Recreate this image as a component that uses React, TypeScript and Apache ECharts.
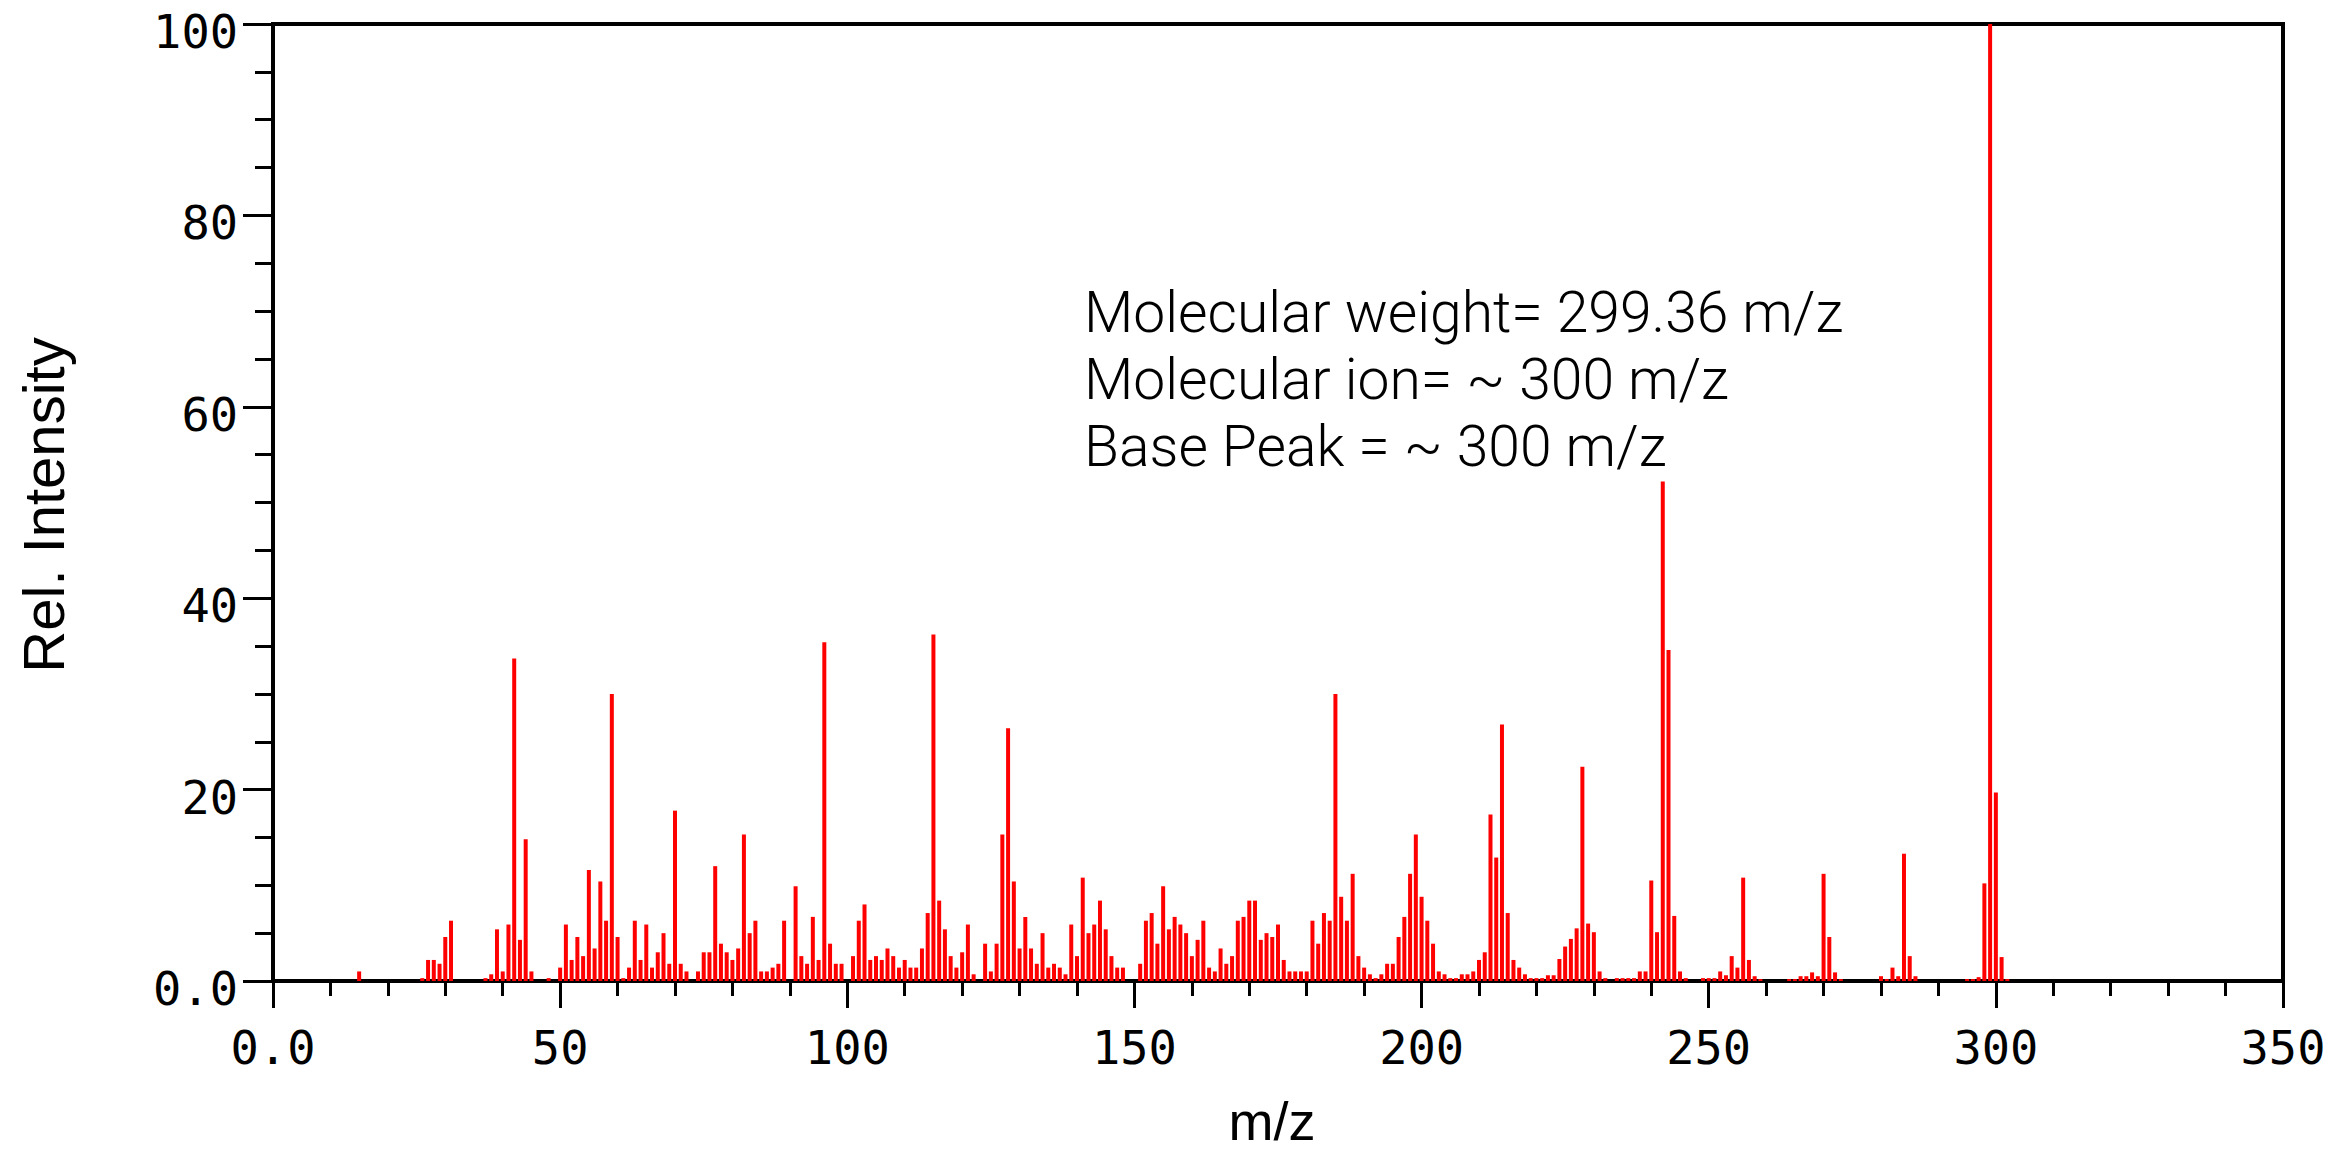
import React, { useEffect, useRef } from "react";
import * as echarts from "echarts";

// m/z positions of the peaks
const massToCharge: number[] = [
  15, 26, 27, 28, 29, 30, 31, 37, 38, 39, 40, 41, 42, 43, 44, 45, 48,
  50, 51, 52, 53, 54, 55, 56, 57, 58, 59, 60, 61, 62, 63, 64, 65, 66, 67, 68, 69,
  70, 71, 72, 74, 75, 76, 77, 78, 79, 80, 81, 82, 83, 84, 85, 86, 87, 88, 89,
  91, 92, 93, 94, 95, 96, 97, 98, 99, 101, 102, 103, 104, 105, 106, 107, 108, 109,
  110, 111, 112, 113, 114, 115, 116, 117, 118, 119, 120, 121, 122, 124, 125, 126,
  127, 128, 129, 130, 131, 132, 133, 134, 135, 136, 137, 138, 139, 140, 141, 142,
  143, 144, 145, 146, 147, 148, 151, 152, 153, 154, 155, 156, 157, 158, 159, 160,
  161, 162, 163, 164, 165, 166, 167, 168, 169, 170, 171, 172, 173, 174, 175, 176,
  177, 178, 179, 180, 181, 182, 183, 184, 185, 186, 187, 188, 189, 190, 191, 192,
  193, 194, 195, 196, 197, 198, 199, 200, 201, 202, 203, 204, 205, 206, 207, 208,
  209, 210, 211, 212, 213, 214, 215, 216, 217, 218, 219, 220, 221, 222, 223, 224,
  225, 226, 227, 228, 229, 230, 231, 232, 234, 235, 236, 237, 238, 239, 240, 241,
  242, 243, 244, 245, 246, 249, 250, 251, 252, 253, 254, 255, 256, 257, 258, 259,
  264, 265, 266, 267, 268, 269, 270, 271, 272, 273, 280, 281, 282, 283, 284, 285,
  286, 295, 296, 297, 298, 299, 300, 301, 302,
];

// relative intensity (%) of each peak, same order as massToCharge
const relIntensity: number[] = [
  1.0, 0.3, 2.2, 2.2, 1.8, 4.6, 6.3, 0.3, 0.7, 5.4, 1.0, 5.9, 33.7, 4.3, 14.8, 1.0, 0.3,
  1.4, 5.9, 2.2, 4.6, 2.6, 11.6, 3.4, 10.4, 6.3, 30.0, 4.6, 0.3, 1.4, 6.3, 2.2, 5.9, 1.4, 3.0, 5.0, 1.8,
  17.8, 1.8, 1.0, 1.0, 3.0, 3.0, 12.0, 3.9, 3.0, 2.2, 3.4, 15.3, 5.0, 6.3, 1.0, 1.0, 1.4, 1.8, 6.3,
  9.9, 2.6, 1.8, 6.7, 2.2, 35.4, 3.9, 1.8, 1.8, 2.6, 6.3, 8.0, 2.2, 2.6, 2.2, 3.4, 2.6, 1.4,
  2.2, 1.4, 1.4, 3.4, 7.1, 36.2, 8.4, 5.4, 2.6, 1.4, 3.0, 5.9, 0.7, 3.9, 1.0, 3.9,
  15.3, 26.4, 10.4, 3.4, 6.7, 3.4, 1.8, 5.0, 1.4, 1.8, 1.4, 0.7, 5.9, 2.6, 10.8, 5.0,
  5.9, 8.4, 5.4, 2.6, 1.4, 1.4, 1.8, 6.3, 7.1, 3.9, 9.9, 5.4, 6.7, 5.9, 5.0, 2.6,
  4.3, 6.3, 1.4, 1.0, 3.4, 1.8, 2.6, 6.3, 6.7, 8.4, 8.4, 4.3, 5.0, 4.6, 5.9, 2.2,
  1.0, 1.0, 1.0, 1.0, 6.3, 3.9, 7.1, 6.3, 30.0, 8.8, 6.3, 11.2, 2.6, 1.4, 0.7, 0.3,
  0.7, 1.8, 1.8, 4.6, 6.7, 11.2, 15.3, 8.8, 6.3, 3.9, 1.0, 0.7, 0.3, 0.3, 0.7, 0.7,
  1.0, 2.2, 3.0, 17.4, 12.9, 26.8, 7.1, 2.2, 1.4, 0.7, 0.3, 0.3, 0.3, 0.6, 0.6, 2.3,
  3.6, 4.4, 5.5, 22.4, 6.0, 5.1, 1.0, 0.3, 0.3, 0.3, 0.3, 0.3, 1.0, 1.0, 10.5, 5.1,
  52.2, 34.6, 6.8, 1.0, 0.3, 0.3, 0.3, 0.3, 1.0, 0.6, 2.6, 1.4, 10.8, 2.2, 0.5, 0.2,
  0.2, 0.2, 0.5, 0.5, 0.9, 0.5, 11.2, 4.6, 0.9, 0.2, 0.5, 0.2, 1.4, 0.5, 13.3, 2.6,
  0.5, 0.2, 0.2, 0.4, 10.2, 100, 19.7, 2.5, 0.2,
];

const xAxisRange = [0, 350];
const xAxisStep = 50;
const yAxisRange = [0, 100];
const yAxisStep = 20;

const xAxisTitle = "m/z";
const yAxisTitle = "Rel. Intensity";
const annotationLines = [
  "Molecular weight= 299.36 m/z",
  "Molecular ion= ~ 300 m/z",
  "Base Peak = ~ 300 m/z",
];

const W = 2341;
const H = 1153;

export default function App() {
  const ref = useRef<HTMLDivElement>(null);

  useEffect(() => {
    const el = ref.current;
    if (!el) return;
    const chart = echarts.init(el, null, { renderer: "svg", width: W, height: H });

    const data = massToCharge.map((m, i) => [m, relIntensity[i]]);
    const tickFmt = (v: number) => (v === 0 ? "0.0" : String(v));
    const labelFont = {
      fontFamily: "DejaVu Sans Mono",
      fontSize: 47,
      color: "#000",
    };

    chart.setOption({
      animation: false,
      backgroundColor: "#ffffff",
      grid: {
        left: 273,
        right: 58,
        top: 24,
        bottom: 172,
        show: true,
        borderColor: "#000",
        borderWidth: 4,
        backgroundColor: "transparent",
      },
      xAxis: {
        type: "value",
        min: xAxisRange[0],
        max: xAxisRange[1],
        interval: xAxisStep,
        axisLine: { show: true, onZero: false, lineStyle: { color: "#000", width: 4 } },
        axisTick: { show: true, length: 27, lineStyle: { color: "#000", width: 3 } },
        minorTick: { show: true, splitNumber: 5, length: 15, lineStyle: { color: "#000", width: 3 } },
        splitLine: { show: false },
        minorSplitLine: { show: false },
        axisLabel: { ...labelFont, margin: 43, formatter: tickFmt },
      },
      yAxis: {
        type: "value",
        min: yAxisRange[0],
        max: yAxisRange[1],
        interval: yAxisStep,
        axisLine: { show: true, onZero: false, lineStyle: { color: "#000", width: 4 } },
        axisTick: { show: true, length: 30, lineStyle: { color: "#000", width: 3 } },
        minorTick: { show: true, splitNumber: 4, length: 18, lineStyle: { color: "#000", width: 3 } },
        splitLine: { show: false },
        minorSplitLine: { show: false },
        axisLabel: {
          ...labelFont,
          margin: 35,
          verticalAlign: "top",
          lineHeight: 15,
          formatter: tickFmt,
        },
      },
      series: [
        {
          type: "bar",
          data,
          barWidth: 4,
          itemStyle: { color: "#ff0000" },
          z: 5,
        },
      ],
      graphic: [
        {
          type: "text",
          x: 43,
          y: 505,
          rotation: Math.PI / 2,
          style: {
            text: yAxisTitle,
            fontFamily: "Liberation Sans",
            fontSize: 58,
            fill: "#000",
            align: "center",
            verticalAlign: "middle",
          },
        },
        {
          type: "text",
          x: 1272,
          y: 1121,
          style: {
            text: xAxisTitle,
            fontFamily: "Liberation Sans",
            fontSize: 54,
            fill: "#000",
            align: "center",
            verticalAlign: "middle",
          },
        },
        {
          type: "text",
          x: 1084,
          y: 279,
          style: {
            text: annotationLines.join("\n"),
            fontFamily: "Roboto",
            fontWeight: 300,
            fontSize: 57,
            lineHeight: 67,
            fill: "#000",
            align: "left",
            verticalAlign: "top",
          },
        },
      ],
    });

    return () => chart.dispose();
  }, []);

  return (
    <div
      ref={ref}
      style={{ position: "fixed", left: 0, top: 0, width: W, height: H, background: "#fff" }}
    />
  );
}
